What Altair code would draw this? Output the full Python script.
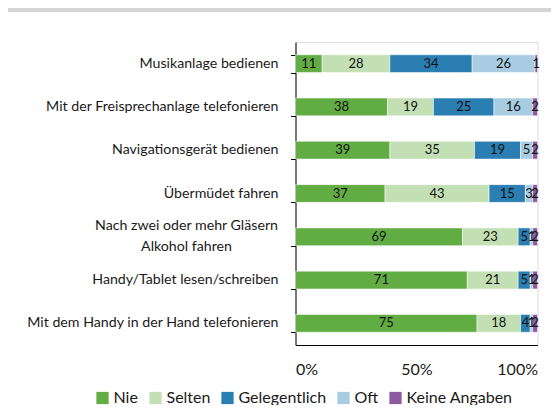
import altair as alt
import pandas as pd

tasks = [
    "Musikanlage bedienen",
    "Mit der Freisprechanlage telefonieren",
    "Navigationsgerät bedienen",
    "Übermüdet fahren",
    "Nach zwei oder mehr Gläsern|Alkohol fahren",
    "Handy/Tablet lesen/schreiben",
    "Mit dem Handy in der Hand telefonieren",
]
answers = ["Nie", "Selten", "Gelegentlich", "Oft", "Keine Angaben"]
colors = ["#62AD43", "#C2E0B4", "#2A7EB1", "#A8CDE3", "#8D5A9F"]

nie = [11, 38, 39, 37, 69, 71, 75]
selten = [28, 19, 35, 43, 23, 21, 18]
gelegentlich = [34, 25, 19, 15, 5, 5, 4]
oft = [26, 16, 5, 3, 1, 1, 1]
keine = [1, 2, 2, 2, 2, 2, 2]

series = [nie, selten, gelegentlich, oft, keine]
rows = []
for k, (ans, vals) in enumerate(zip(answers, series)):
    for t, v in zip(tasks, vals):
        rows.append({"task": t, "answer": ans, "value": v, "ord": k})
df = pd.DataFrame(rows)
df_tasks = pd.DataFrame({"task": tasks})

FONT = "Lato"

yscale = alt.Scale(domain=tasks, paddingInner=0.59, paddingOuter=0.295)

base = alt.Chart(df).transform_stack(
    stack="value", as_=["x0", "x1"], groupby=["task"], sort=[alt.SortField("ord")]
).transform_calculate(mid="(datum.x0 + datum.x1) / 2")

yenc = alt.Y(
    "task:N",
    sort=tasks,
    scale=yscale,
    axis=alt.Axis(
        title=None,
        labels=False,
        tickBand="extent",
        tickSize=5,
        tickColor="#000",
        domainColor="#000",
    ),
)

bars = base.mark_bar(stroke="white", strokeWidth=0.5).encode(
    y=yenc,
    x=alt.X(
        "x0:Q",
        scale=alt.Scale(domain=[0, 100], nice=False),
        axis=alt.Axis(
            title=None,
            values=[0, 50, 100],
            labelExpr="datum.value + '%'",
            labelFont=FONT,
            labelFontSize=16,
            labelColor="#1a1a1a",
            ticks=False,
            grid=False,
            domainColor="#000",
            labelPadding=16,
        ),
    ),
    x2="x1:Q",
    color=alt.Color(
        "answer:N",
        scale=alt.Scale(domain=answers, range=colors),
        legend=alt.Legend(
            title=None,
            orient="none",
            legendX=-201,
            legendY=348,
            direction="horizontal",
            symbolType="square",
            symbolSize=150,
            symbolStrokeWidth=0,
            labelFont=FONT,
            labelFontSize=16,
            labelColor="#1a1a1a",
            labelOffset=3,
            columnPadding=9,
        ),
    ),
)

labels = base.mark_text(font=FONT, fontSize=13, color="#111").encode(
    y=alt.Y("task:N", sort=tasks, scale=yscale),
    x=alt.X("mid:Q"),
    text=alt.Text("value:Q"),
)

ylab_single = alt.Chart(df_tasks).transform_filter(
    "indexof(datum.task, '|') < 0"
).mark_text(
    align="right", baseline="middle", font=FONT, fontSize=14.2, color="#1a1a1a"
).encode(
    y=alt.Y("task:N", sort=tasks, scale=yscale),
    x=alt.value(-17),
    text="task:N",
)

ylab_multi = alt.Chart(df_tasks).transform_filter(
    "indexof(datum.task, '|') >= 0"
).mark_text(
    align="center", baseline="middle", font=FONT, fontSize=14.2, color="#1a1a1a",
    lineBreak="|", lineHeight=21, dy=-10.5, dx=-92,
).encode(
    y=alt.Y("task:N", sort=tasks, scale=yscale),
    x=alt.value(-17),
    text="task:N",
)

topband = alt.Chart(pd.DataFrame({"a": [0]})).mark_rect(color="#D4D4D4").encode(
    x=alt.value(-290), x2=alt.value(270), y=alt.value(-34), y2=alt.value(-30)
)

chart = alt.layer(topband, bars, labels, ylab_single, ylab_multi).properties(
    width=242,
    height=303,
    autosize=alt.AutoSizeParams(type="none"),
    padding={"left": 287.5, "top": 34, "right": 13, "bottom": 60},
).configure_view(stroke=None).configure(background="white")

chart.save("out.html", embed_options={"renderer": "svg", "actions": False})
